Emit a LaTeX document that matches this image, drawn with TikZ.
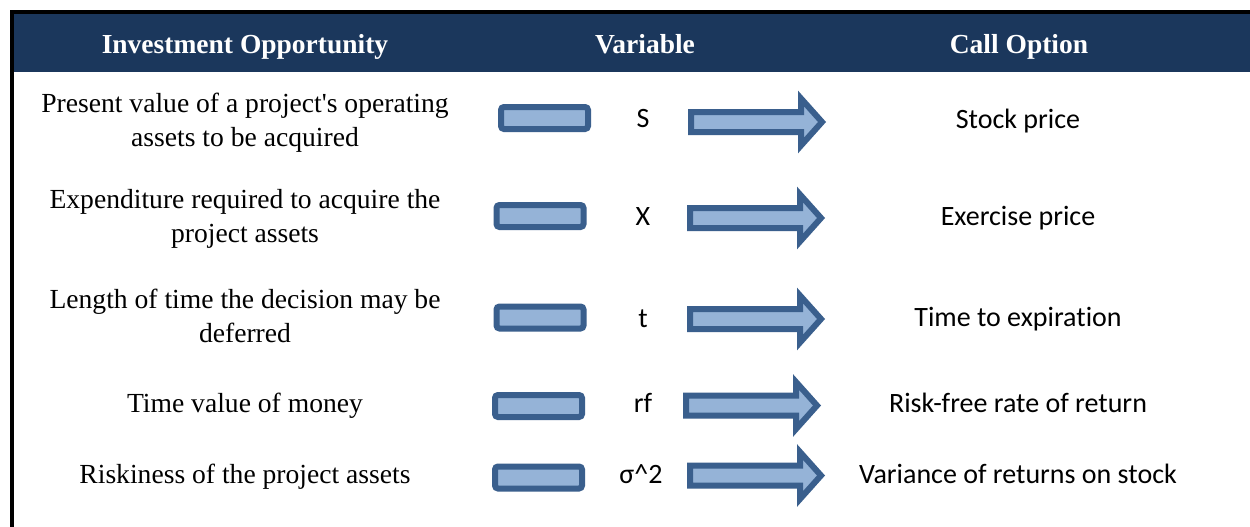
\documentclass[tikz,border=0pt]{standalone}
\usepackage{fontspec}
\setmainfont{Liberation Serif}[Ligatures=TeXOff]
\newfontfamily\calfont{Carlito}[Ligatures=CommonOff]
\definecolor{hdrblue}{HTML}{1B375C}
\definecolor{shapeedge}{HTML}{3A5F8D}
\definecolor{shapefill}{HTML}{95B3D7}
\tikzset{
  hdrtext/.style={text=white, font=\fontsize{27.5}{33}\selectfont\bfseries, inner sep=0pt, anchor=base},
  lefttext/.style={font=\fontsize{27.6}{34}\selectfont, inner sep=0pt, anchor=base},
  vartext/.style={font=\calfont\fontsize{28}{34}\selectfont, inner sep=0pt, anchor=base},
  righttext/.style={font=\calfont\fontsize{28}{34}\selectfont, inner sep=0pt, anchor=base},
  eqbox/.style={draw=shapeedge, fill=shapefill, line width=6pt, rounded corners=3pt,
    minimum width=87pt, minimum height=22pt, inner sep=0pt},
  fatarrow/.style={draw=shapeedge, fill=shapefill, line width=6pt, miter limit=10}
}
\newcommand{\fatarrowat}[3]{% name, left x, center y
  \coordinate (#1) at (#2,#3);
  \path[fatarrow] ([xshift=3pt,yshift=-10pt]#1) -- ([xshift=113pt,yshift=-10pt]#1)
    -- ([xshift=113pt,yshift=-23.5pt]#1) -- ([xshift=134pt]#1)
    -- ([xshift=113pt,yshift=23.5pt]#1) -- ([xshift=113pt,yshift=10pt]#1)
    -- ([xshift=3pt,yshift=10pt]#1) -- cycle;
}
\begin{document}
\begin{tikzpicture}[x=1pt,y=-1pt]
\useasboundingbox (0,0) rectangle (1250,527);
\fill[white] (0,0) rectangle (1250,527);
% header band and frame
\fill[hdrblue] (14,14) rectangle (1250,72);
\fill[black] (10,10) rectangle (1250,14);
\fill[black] (10,10) rectangle (14,527);
\node[hdrtext] (h1) at (245,54) {Investment Opportunity};
\node[hdrtext] (h2) at (645,54) {Variable};
\node[hdrtext] (h3) at (1019,54) {Call Option};
% row 1
\node[lefttext] (l1a) at (245,112) {Present value of a project's operating};
\node[lefttext] (l1b) at (245,146) {assets to be acquired};
\node[eqbox] (b1) at (544.5,118) {};
\node[vartext] (v1) at (643,127) {S};
\fatarrowat{a1}{688}{122}
\node[righttext] (r1) at (1018,128) {Stock price};
% row 2
\node[lefttext] (l2a) at (245,208) {Expenditure required to acquire the};
\node[lefttext] (l2b) at (245,242) {project assets};
\node[eqbox] (b2) at (540,216) {};
\node[vartext] (v2) at (643,225) {X};
\fatarrowat{a2}{687}{218}
\node[righttext] (r2) at (1018,225) {Exercise price};
% row 3
\node[lefttext] (l3a) at (245,308) {Length of time the decision may be};
\node[lefttext] (l3b) at (245,342) {deferred};
\node[eqbox] (b3) at (540,317.5) {};
\node[vartext] (v3) at (643,327) {t};
\fatarrowat{a3}{687}{319}
\node[righttext] (r3) at (1018,326) {Time to expiration};
% row 4
\node[lefttext] (l4) at (245,412) {Time value of money};
\node[eqbox] (b4) at (538.5,406) {};
\node[vartext] (v4) at (643,412) {rf};
\fatarrowat{a4}{683}{405.5}
\node[righttext] (r4) at (1018,412) {Risk-free rate of return};
% row 5
\node[lefttext] (l5) at (245,483) {Riskiness of the project assets};
\node[eqbox] (b5) at (538.5,477.5) {};
\node[vartext] (v5) at (641,483) {σ\^{}2};
\fatarrowat{a5}{687}{475.5}
\node[righttext] (r5) at (1018,483) {Variance of returns on stock};
\end{tikzpicture}
\end{document}
